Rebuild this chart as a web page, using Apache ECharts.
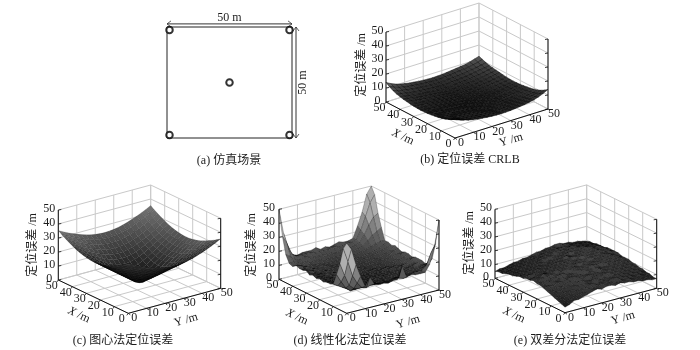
<!DOCTYPE html>
<html><head><meta charset="utf-8">
<style>html,body{margin:0;padding:0;background:#fff}#c{width:700px;height:350px}</style>
<script src="https://cdn.jsdelivr.net/npm/echarts@6/dist/echarts.min.js"></script>
</head><body><div id="c"></div>
<script>
const captions = ['(a) 仿真场景','(b) 定位误差 CRLB','(c) 图心法定位误差','(d) 线性化法定位误差','(e) 双差分法定位误差'];
const axisTicks = [0,10,20,30,40,50];
const zAxisName = '定位误差 /m';
const sideLabel = '50 m';
const anchorX = [1,49,1,49,25];
const anchorY = [1.3,1.3,48.7,48.7,25];

const surfaceB = [
[14,12.2,10.8,9.7,9,8.4,8,7.6,7.3,7.1,7,7.1,7.3,7.6,8,8.4,9,9.7,10.8,12.2,14],
[12.2,10.8,9.6,8.8,8.2,7.8,7.4,7,6.8,6.6,6.5,6.6,6.8,7,7.4,7.8,8.2,8.8,9.6,10.8,12.2],
[10.8,9.6,8.8,8.1,7.6,7.2,6.8,6.5,6.3,6.1,6,6.1,6.3,6.5,6.8,7.2,7.6,8.1,8.8,9.6,10.8],
[9.7,8.8,8.1,7.5,7,6.6,6.3,6,5.8,5.6,5.5,5.6,5.8,6,6.3,6.6,7,7.5,8.1,8.8,9.7],
[9,8.2,7.6,7,6.5,6.1,5.8,5.5,5.3,5.1,5,5.1,5.3,5.5,5.8,6.1,6.5,7,7.6,8.2,9],
[8.4,7.8,7.2,6.6,6.1,5.7,5.4,5.1,4.9,4.7,4.6,4.7,4.9,5.1,5.4,5.7,6.1,6.6,7.2,7.8,8.4],
[8,7.4,6.8,6.3,5.8,5.4,5.1,4.8,4.6,4.4,4.3,4.4,4.6,4.8,5.1,5.4,5.8,6.3,6.8,7.4,8],
[7.6,7,6.5,6,5.5,5.1,4.8,4.5,4.3,4.1,4,4.1,4.3,4.5,4.8,5.1,5.5,6,6.5,7,7.6],
[7.3,6.8,6.3,5.8,5.3,4.9,4.6,4.3,4,3.9,3.8,3.9,4,4.3,4.6,4.9,5.3,5.8,6.3,6.8,7.3],
[7.1,6.6,6.1,5.6,5.1,4.7,4.4,4.1,3.9,3.7,3.6,3.7,3.9,4.1,4.4,4.7,5.1,5.6,6.1,6.6,7.1],
[7,6.5,6,5.5,5,4.6,4.3,4,3.8,3.6,3.5,3.6,3.8,4,4.3,4.6,5,5.5,6,6.5,7],
[7.1,6.6,6.1,5.6,5.1,4.7,4.4,4.1,3.9,3.7,3.6,3.7,3.9,4.1,4.4,4.7,5.1,5.6,6.1,6.6,7.1],
[7.3,6.8,6.3,5.8,5.3,4.9,4.6,4.3,4,3.9,3.8,3.9,4,4.3,4.6,4.9,5.3,5.8,6.3,6.8,7.3],
[7.6,7,6.5,6,5.5,5.1,4.8,4.5,4.3,4.1,4,4.1,4.3,4.5,4.8,5.1,5.5,6,6.5,7,7.6],
[8,7.4,6.8,6.3,5.8,5.4,5.1,4.8,4.6,4.4,4.3,4.4,4.6,4.8,5.1,5.4,5.8,6.3,6.8,7.4,8],
[8.4,7.8,7.2,6.6,6.1,5.7,5.4,5.1,4.9,4.7,4.6,4.7,4.9,5.1,5.4,5.7,6.1,6.6,7.2,7.8,8.4],
[9,8.2,7.6,7,6.5,6.1,5.8,5.5,5.3,5.1,5,5.1,5.3,5.5,5.8,6.1,6.5,7,7.6,8.2,8.8],
[9.7,8.8,8.1,7.5,7,6.6,6.3,6,5.8,5.6,5.5,5.6,5.8,6,6.3,6.6,7,7.5,8.1,8.6,9.2],
[10.8,9.6,8.8,8.1,7.6,7.2,6.8,6.5,6.3,6.1,6,6.1,6.3,6.5,6.8,7.2,7.6,8.1,8.6,9.2,10],
[12.2,10.8,9.6,8.8,8.2,7.8,7.4,7,6.8,6.6,6.5,6.6,6.8,7,7.4,7.8,8.2,8.6,9.2,10,11],
[14,12.2,10.8,9.7,9,8.4,8,7.6,7.3,7.1,7,7.1,7.3,7.6,8,8.4,8.8,9.2,10,11,12]
];
const surfaceC = [
[35.4,33.6,32,30.5,29.2,28,26.9,26.1,25.5,25.1,25,25.1,25.5,26.1,26.9,28,29.2,30.5,32,33.6,35.4],
[33.6,31.8,30.1,28.6,27,25.7,24.6,23.7,23,22.6,22.5,22.6,23,23.7,24.6,25.7,27,28.6,30.1,31.8,33.6],
[32,30.1,28.3,26.6,25,23.6,22.4,21.4,20.6,20.2,20,20.2,20.6,21.4,22.4,23.6,25,26.6,28.3,30.1,32],
[30.5,28.6,26.6,24.7,23,21.5,20.2,19,18.2,17.7,17.5,17.7,18.2,19,20.2,21.5,23,24.7,26.6,28.6,30.5],
[29.2,27,25,23,21.2,19.5,18,16.8,15.8,15.2,15,15.2,15.8,16.8,18,19.5,21.2,23,25,27,29.2],
[28,25.7,23.6,21.5,19.5,17.7,16,14.6,13.5,12.7,12.5,12.7,13.5,14.6,16,17.7,19.5,21.5,23.6,25.7,28],
[26.9,24.6,22.4,20.2,18,16,14.1,12.5,11.2,10.3,10,10.3,11.2,12.5,14.1,16,18,20.2,22.4,24.6,26.9],
[26.1,23.7,21.4,19,16.8,14.6,12.5,10.6,9,7.9,7.5,7.9,9,10.6,12.5,14.6,16.8,19,21.4,23.7,26.1],
[25.5,23,20.6,18.2,15.8,13.5,11.2,9,7.1,5.6,5,5.6,7.1,9,11.2,13.5,15.8,18.2,20.6,23,25.5],
[25.1,22.6,20.2,17.7,15.2,12.7,10.3,7.9,5.6,3.5,2.5,3.5,5.6,7.9,10.3,12.7,15.2,17.7,20.2,22.6,25.1],
[25,22.5,20,17.5,15,12.5,10,7.5,5,2.5,1,2.5,5,7.5,10,12.5,15,17.5,20,22.5,25],
[25.1,22.6,20.2,17.7,15.2,12.7,10.3,7.9,5.6,3.5,2.5,3.5,5.6,7.9,10.3,12.7,15.2,17.7,20.2,22.6,25.1],
[25.5,23,20.6,18.2,15.8,13.5,11.2,9,7.1,5.6,5,5.6,7.1,9,11.2,13.5,15.8,18.2,20.6,23,25.5],
[26.1,23.7,21.4,19,16.8,14.6,12.5,10.6,9,7.9,7.5,7.9,9,10.6,12.5,14.6,16.8,19,21.4,23.7,26.1],
[26.9,24.6,22.4,20.2,18,16,14.1,12.5,11.2,10.3,10,10.3,11.2,12.5,14.1,16,18,20.2,22.4,24.6,26.9],
[28,25.7,23.6,21.5,19.5,17.7,16,14.6,13.5,12.7,12.5,12.7,13.5,14.6,16,17.7,19.5,21.5,23.6,25.7,28],
[29.2,27,25,23,21.2,19.5,18,16.8,15.8,15.2,15,15.2,15.8,16.8,18,19.5,21.2,23,25,27,29.2],
[30.5,28.6,26.6,24.7,23,21.5,20.2,19,18.2,17.7,17.5,17.7,18.2,19,20.2,21.5,23,24.7,26.6,28.6,30.5],
[32,30.1,28.3,26.6,25,23.6,22.4,21.4,20.6,20.2,20,20.2,20.6,21.4,22.4,23.6,25,26.6,28.3,30.1,32],
[33.6,31.8,30.1,28.6,27,25.7,24.6,23.7,23,22.6,22.5,22.6,23,23.7,24.6,25.7,27,28.6,30.1,31.8,33.6],
[35.4,33.6,32,30.5,29.2,28,26.9,26.1,25.5,25.1,25,25.1,25.5,26.1,26.9,28,29.2,30.5,32,33.6,35.4]
];
const surfaceD = [
[50,45,33,24,16,22,16,15,15,14,15,15,24,15,16,15,15,15,20,32,50],
[45,35,24,18,14,13,14,14,13,14,13,14,14,13,14,15,15,15,18,26,32],
[33,24,16,13,12,12,13,12,12,12,11,12,13,12,13,13,14,14,15,18,20],
[24,18,13,10,10,11,12,11,11,10,11,10,11,11,12,12,13,13,14,15,15],
[16,14,12,10,10,10,10,10,10,9,10,10,10,10,11,11,12,13,13,14,14],
[15,14,13,12,11,10,10,9,9,9,8,9,9,10,10,10,11,12,13,14,15],
[15,14,12,11,10,10,9,9,8,8,8,8,9,9,9,10,10,11,12,13,15],
[14,13,12,11,10,9,9,8,8,8,7,8,8,8,9,9,10,11,12,14,15],
[15,13,12,10,10,9,8,8,8,7,7,7,8,8,8,9,10,10,11,13,14],
[14,14,11,11,9,9,8,8,7,7,7,7,7,8,8,9,9,10,12,13,15],
[15,13,12,10,10,8,8,7,7,7,6,7,7,8,8,8,9,10,11,14,15],
[14,14,12,11,9,9,8,8,7,7,7,7,8,7,8,9,9,11,12,13,14],
[16,13,12,11,10,9,9,8,8,7,7,8,8,8,9,9,10,10,12,14,15],
[15,14,13,11,10,10,9,8,8,8,8,8,8,9,9,10,10,11,12,13,16],
[15,14,12,12,11,10,9,9,9,8,8,9,9,9,10,10,11,12,13,14,15],
[16,15,13,12,11,11,10,10,9,9,9,9,10,10,10,11,11,12,13,15,16],
[14,14,13,12,12,11,11,10,10,10,10,10,11,11,11,12,13,14,15,16,16],
[15,15,14,13,13,12,12,12,11,11,11,11,11,12,12,13,14,17,20,22,24],
[20,18,15,14,15,14,13,13,13,12,13,12,13,13,13,14,15,20,26,31,33],
[32,26,18,15,15,15,15,14,14,14,14,15,14,14,15,15,16,22,31,40,45],
[50,32,20,15,14,15,15,15,16,14,15,14,15,16,15,15,16,24,33,45,50]
];
const surfaceE = [
[4,5,7,7,8,9,10,11,10,11,11,10,11,10,10,9,9,8,8,7,7],
[5,6,7,8,9,9,11,10,11,12,11,11,10,11,10,10,9,9,8,8,7],
[6,7,8,8,10,10,10,12,11,11,12,11,12,11,11,10,10,9,9,8,8],
[7,7,9,9,9,11,11,11,12,13,11,12,11,12,11,11,10,10,9,9,8],
[8,9,9,10,11,10,12,12,11,12,13,12,13,12,12,11,11,10,10,9,9],
[9,9,10,10,11,12,11,13,12,13,12,13,12,13,12,12,11,11,10,10,9],
[10,11,10,12,11,12,13,12,13,12,13,12,14,12,13,12,12,11,11,10,10],
[11,10,12,11,12,12,12,13,12,14,13,13,13,13,12,13,12,12,11,11,10],
[11,11,11,12,12,13,13,12,14,13,14,13,14,13,14,13,13,12,12,11,11],
[12,11,12,12,13,12,13,14,13,14,13,14,13,14,13,14,13,13,12,12,11],
[11,12,11,13,12,13,13,13,14,13,14,14,14,13,14,13,14,13,13,12,11],
[11,10,12,11,12,12,13,13,13,14,13,14,14,14,14,14,13,14,13,12,12],
[10,11,11,12,11,12,12,13,13,13,14,13,14,15,14,14,14,13,13,13,12],
[10,10,10,11,12,11,12,12,13,13,13,14,14,14,15,14,14,14,13,13,12],
[9,9,10,10,11,12,11,12,12,13,13,14,13,14,14,15,14,14,13,13,12],
[8,9,9,10,10,11,12,11,12,12,13,13,14,14,14,14,15,14,13,13,11],
[8,8,9,9,10,10,11,12,12,13,12,13,13,14,14,14,14,13,13,12,11],
[7,8,8,9,9,10,10,11,12,12,13,13,13,13,14,14,13,13,12,12,11],
[6,7,8,8,9,9,10,10,11,12,12,13,13,13,13,13,13,12,12,11,10],
[6,6,7,8,8,9,9,10,10,11,12,12,13,12,13,13,12,12,11,11,10],
[5,6,6,7,8,8,9,9,10,11,11,12,12,13,13,12,12,11,11,10,9]
];

// Panel geometry (pixels): where the cube's floor corners and titles land.
const panels = [
 {z:surfaceB, front:[455,138], left:[386,102], right:[548,109], zh:70, base:0, gain:6, mesh:.7, xt:[403,137], yt:[511,140], zt:[362,65], zo:-8.5},
 {z:surfaceC, front:[128.3,313.3], left:[58.3,280], right:[220.7,288.3], zh:70, base:6, gain:2.5, mesh:.2, xt:[79,315], yt:[186,320], zt:[33,245], zo:-9},
 {z:surfaceD, front:[346.7,313.3], left:[279,279.3], right:[439,290], zh:70, base:4, gain:4, mesh:.4, xt:[297,317], yt:[408,322], zt:[252,245], zo:-10},
 {z:surfaceE, front:[565,312.7], left:[495,278.3], right:[656.7,288.3], zh:69, base:8, gain:3.4, mesh:.5, xt:[514,315], yt:[623,318], zt:[470,243], zo:-9}
];
const captionPos = [[229,162],[470,161],[123,342],[350,342],[570,342]];
const FONT = '"Liberation Serif","Noto Sans CJK SC",serif';
const INK = '#1c1c1c';
const PAD_L = 90, PAD_T = 130, W = 200, H = 150;   // grid box around each 3D panel
const PAD_B = H - PAD_T;

const grids = [{left:167, top:27, width:125, height:111, show:true, borderColor:'#222', borderWidth:1, backgroundColor:'transparent'}];
const xAxes = [{type:'value', gridIndex:0, min:0, max:50, show:false}];
const yAxes = [{type:'value', gridIndex:0, min:0, max:50, show:false}];
panels.forEach((p,k)=>{
  grids.push({left:p.front[0]-PAD_L, top:p.front[1]-PAD_T, width:W, height:H});
  xAxes.push({type:'value', gridIndex:k+1, min:0, max:W, show:false});
  yAxes.push({type:'value', gridIndex:k+1, min:0, max:H, show:false});
});
// projection of a scene point into the panel's axis units
function project(p,X,Y,Z){
  const lx=p.left[0]-p.front[0], ly=p.front[1]-p.left[1], rx=p.right[0]-p.front[0], ry=p.front[1]-p.right[1];
  return [PAD_L + X/50*lx + Y/50*rx, PAD_B + X/50*ly + Y/50*ry + Z/50*p.zh];
}
function line(a,b,color,w){
  return {type:'line', shape:{x1:a[0],y1:a[1],x2:b[0],y2:b[1]}, style:{stroke:color,lineWidth:w}, silent:true};
}
function label(text,x,y,rot,rich){
  const s={text, x:0, y:0, fill:INK, font:'12px '+FONT, align:'center', verticalAlign:'middle'};
  if(rich) s.rich=rich;
  return {type:'text', x, y, rotation:rot||0, style:s, silent:true};
}
const series = [];
// panel (a)
series.push({type:'scatter', xAxisIndex:0, yAxisIndex:0, data:anchorX.map((x,i)=>[x,anchorY[i]]), symbol:'circle', symbolSize:6.5, itemStyle:{color:'#fff',borderColor:'#000',borderWidth:2}, z:5, silent:true});
series.push({type:'custom', xAxisIndex:0, yAxisIndex:0, data:[[0,50]], clip:false, silent:true, z:4, renderItem(params,api){
  const a=api.coord([0,51.4]), b=api.coord([50,51.4]), c=api.coord([51.6,50]), d=api.coord([51.6,0]);
  const col='#333', ch=[];
  ch.push(line(a,b,col,1), line(c,d,col,1));
  ch.push(line(a,[a[0]+4,a[1]-3],col,.8), line(a,[a[0]+4,a[1]+3],col,.8));
  ch.push(line(b,[b[0]-4,b[1]-3],col,.8), line(b,[b[0]-4,b[1]+3],col,.8));
  ch.push(line(c,[c[0]-3,c[1]+4],col,.8), line(c,[c[0]+3,c[1]+4],col,.8));
  ch.push(line(d,[d[0]-3,d[1]-4],col,.8), line(d,[d[0]+3,d[1]-4],col,.8));
  ch.push(label(sideLabel,(a[0]+b[0])/2,a[1]-6,0));
  ch.push(label(sideLabel,c[0]+7,(c[1]+d[1])/2,Math.PI/2));
  return {type:'group',children:ch};
}});
// 3D panels
panels.forEach((p,k)=>{
  const ax={xAxisIndex:k+1,yAxisIndex:k+1};
  series.push(Object.assign({type:'custom', data:[[0,0]], clip:false, silent:true, z:1, renderItem(params,api){
    const P=(X,Y,Z)=>api.coord(project(p,X,Y,Z));
    const ch=[], g='#c9c9c9';
    axisTicks.forEach(t=>{
      ch.push(line(P(t,0,0),P(t,50,0),g,1), line(P(t,50,0),P(t,50,50),g,1));
      ch.push(line(P(0,t,0),P(50,t,0),g,1), line(P(50,t,0),P(50,t,50),g,1));
      ch.push(line(P(50,0,t),P(50,50,t),g,1), line(P(50,50,t),P(0,50,t),g,1));
    });
    ch.push(line(P(0,0,0),P(50,0,0),'#111',1), line(P(0,0,0),P(0,50,0),'#111',1));
    ch.push(line(P(50,0,0),P(50,0,50),'#111',1), line(P(0,50,0),P(0,50,50),'#111',1));
    axisTicks.forEach(t=>{
      const a=P(t,0,0), b=P(0,t,0), c=P(50,0,t), d=P(0,50,t);
      ch.push(line(a,[a[0]-1.5,a[1]+2],'#111',.8), line(b,[b[0]+2,b[1]+1.5],'#111',.8));
      ch.push(line(c,[c[0]+3,c[1]-.5],'#111',.8), line(d,[d[0]-3,d[1]+.5],'#111',.8));
      ch.push(label(String(t),a[0]-6.5,a[1]+6), label(String(t),b[0]+6,b[1]+5));
      ch.push(label(String(t),c[0]+p.zo,c[1]-1));
    });
    const rich={i:{font:'italic 12px '+FONT,fill:INK},n:{font:'12px '+FONT,fill:INK}};
    ch.push(label('{i|X}{n| /m}',p.xt[0],p.xt[1],-0.44,rich));
    ch.push(label('Y /m',p.yt[0],p.yt[1],0.28));
    ch.push(label(zAxisName,p.zt[0],p.zt[1],Math.PI/2));
    return {type:'group',children:ch};
  }},ax));
  const cells=[], n=p.z.length;
  for(let i=n-2;i>=0;i--) for(let j=n-2;j>=0;j--) cells.push([i,j]);
  cells.sort((a,b)=>(b[0]+b[1])-(a[0]+a[1]));
  const step=50/(n-1);
  // a flat cell's on-screen area: mesh seen edge-on packs its lines tighter and reads darker
  const flat=Math.abs((p.left[0]-p.front[0])*(p.right[1]-p.front[1])-(p.left[1]-p.front[1])*(p.right[0]-p.front[0]))/((n-1)*(n-1));
  series.push(Object.assign({type:'custom', data:cells, clip:false, silent:true, z:2, animation:false, renderItem(params,api){
    const i=api.value(0), j=api.value(1), Z=p.z;
    const q=[[i,j],[i+1,j],[i+1,j+1],[i,j+1]];
    const pts=q.map(c=>api.coord(project(p,c[0]*step,c[1]*step,Z[c[0]][c[1]])));
    const m=(Z[i][j]+Z[i+1][j]+Z[i+1][j+1]+Z[i][j+1])/4;
    let area=0;
    pts.forEach((a,t)=>{const b=pts[(t+1)%4]; area+=a[0]*b[1]-b[0]*a[1];});
    area=Math.abs(area)/2;
    const f=Math.max(.25,Math.min(1.25,area/flat));
    const v=Math.min(175,Math.round((p.base+p.gain*m)*f));
    return {type:'polygon', shape:{points:pts}, style:{fill:`rgb(${v},${v},${v})`, stroke:`rgba(0,0,0,${p.mesh})`, lineWidth:0.6}, silent:true};
  }},ax));
});
const chart = echarts.init(document.getElementById('c'),null,{renderer:'canvas'});
chart.setOption({
  animation:false,
  backgroundColor:'#fff',
  title:captions.map((t,i)=>({text:t,left:captionPos[i][0],top:captionPos[i][1]-7,textAlign:'center',padding:0,
    textStyle:{fontSize:12,fontWeight:'normal',fontFamily:FONT,color:INK}})),
  grid:grids, xAxis:xAxes, yAxis:yAxes, series
});
</script></body></html>
